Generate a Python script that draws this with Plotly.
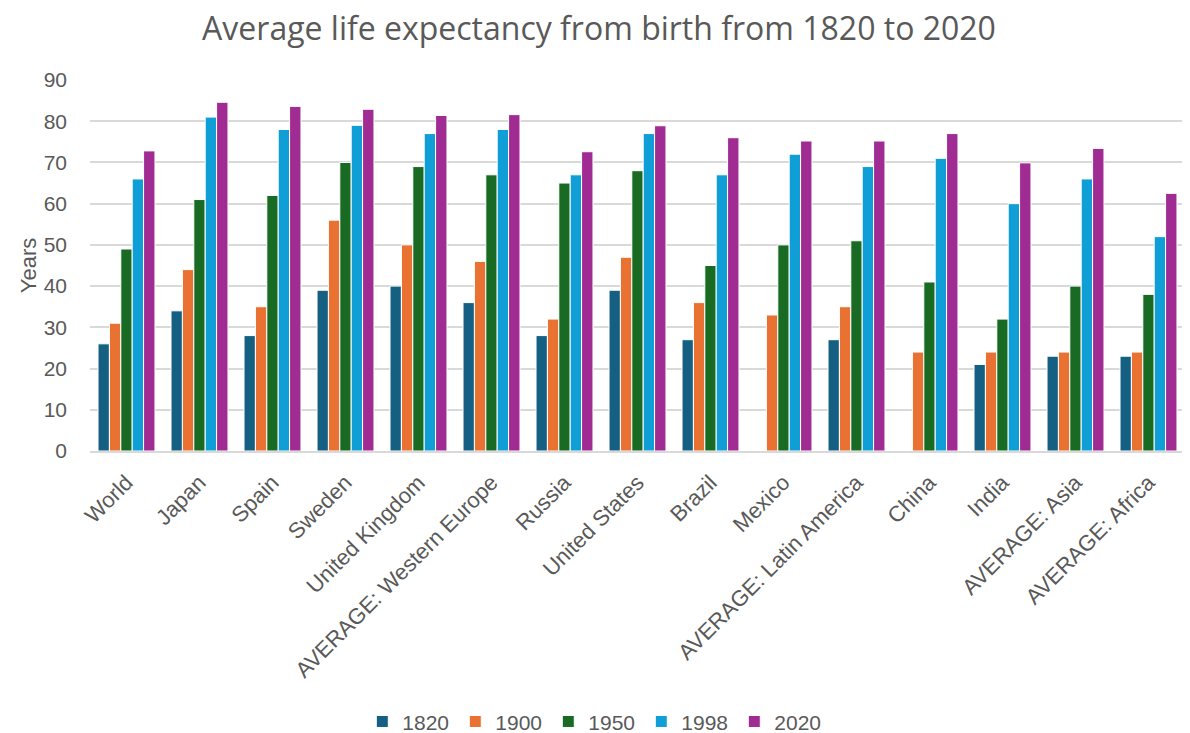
import plotly.graph_objects as go

categories = ["World", "Japan", "Spain", "Sweden", "United Kingdom",
              "AVERAGE: Western Europe", "Russia", "United States", "Brazil",
              "Mexico", "AVERAGE: Latin America", "China", "India",
              "AVERAGE: Asia", "AVERAGE: Africa"]

years = ["1820", "1900", "1950", "1998", "2020"]

v1820 = [26, 34, 28, 39, 40, 36, 28, 39, 27, None, 27, None, 21, 23, 23]
v1900 = [31, 44, 35, 56, 50, 46, 32, 47, 36, 33, 35, 24, 24, 24, 24]
v1950 = [49, 61, 62, 70, 69, 67, 65, 68, 45, 50, 51, 41, 32, 40, 38]
v1998 = [66, 81, 78, 79, 77, 78, 67, 77, 67, 72, 69, 71, 60, 66, 52]
v2020 = [72.8, 84.6, 83.6, 82.9, 81.4, 81.6, 72.6, 78.9, 76.0, 75.2, 75.2, 77.0, 69.9, 73.4, 62.5]

colors = ["#156082", "#E97132", "#196B24", "#0F9ED5", "#A02B93"]
series = [v1820, v1900, v1950, v1998, v2020]

axis_font = "Liberation Sans, Arial, sans-serif"
title_font = "Open Sans, Noto Sans, sans-serif"
text_color = "#595959"

fig = go.Figure()
for name, vals, col in zip(years, series, colors):
    fig.add_trace(go.Bar(
        name=name, x=categories, y=vals,
        marker=dict(color=col, line=dict(color="white", width=1)),
    ))

fig.update_layout(
    width=1182, height=725,
    barmode="group", bargap=0.22, bargroupgap=0.0,
    plot_bgcolor="white", paper_bgcolor="white",
    margin=dict(l=82, r=5, t=72, b=282, autoexpand=False),
    font=dict(family=axis_font, color=text_color, size=21),
    title=dict(text="Average life expectancy from birth from 1820 to 2020",
               x=0.5, xanchor="center", y=1 - 21 / 725, yanchor="middle",
               yref="container",
               font=dict(size=32, color=text_color, family=title_font)),
    yaxis=dict(range=[0, 90], dtick=10, showgrid=True, gridcolor="#d9d9d9",
               gridwidth=2, zeroline=False, showline=False,
               ticks="", ticklabelstandoff=22,
               tickfont=dict(size=21, color=text_color),
               title=dict(text="Years", font=dict(size=22, color=text_color), standoff=0)),
    xaxis=dict(tickangle=-45, showline=True, linecolor="#d9d9d9", linewidth=2,
               ticks="", ticklabelstandoff=8,
               tickfont=dict(size=22, color=text_color)),
    legend=dict(orientation="h", x=0.461, xanchor="center",
                y=-0.73, yanchor="middle", font=dict(size=21, color=text_color),
                traceorder="normal", itemwidth=30, entrywidth=48),
)

fig.write_html("out.html")
